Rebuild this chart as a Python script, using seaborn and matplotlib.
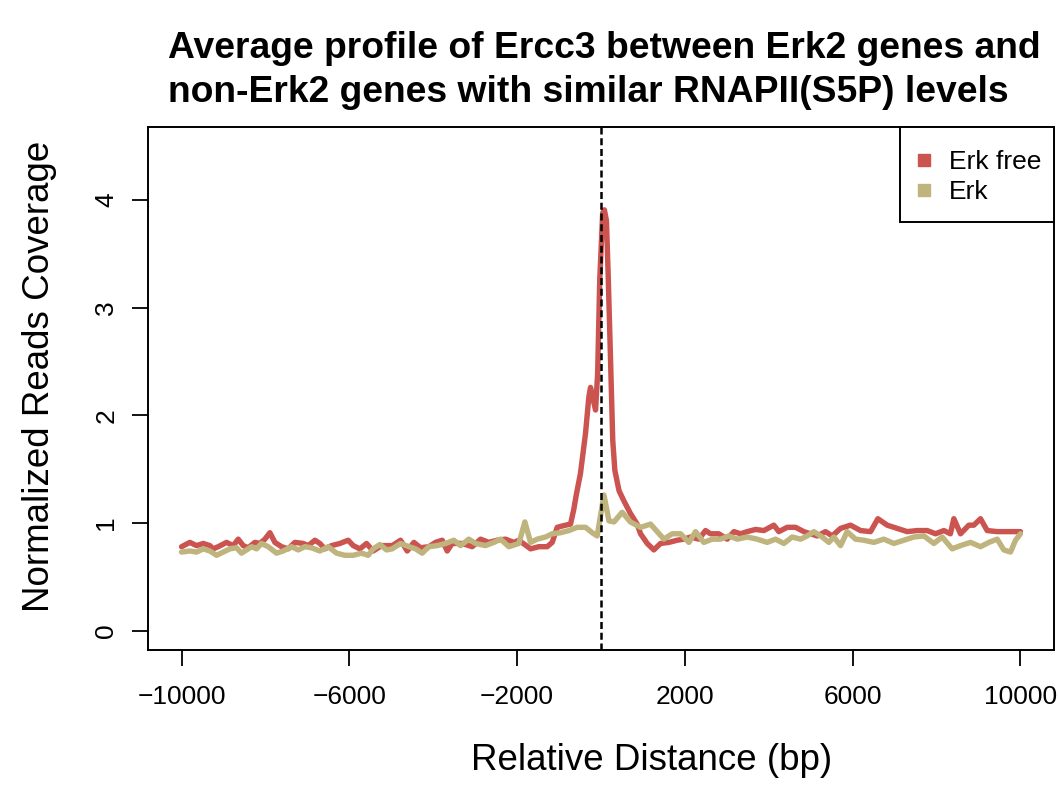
import numpy as np
import pandas as pd
import matplotlib
matplotlib.use("Agg")
import matplotlib.pyplot as plt
import seaborn as sns
from matplotlib.lines import Line2D
from matplotlib.patches import Rectangle

# ---------------- data ----------------
title_lines = ["Average profile of Ercc3 between Erk2 genes and",
               "non-Erk2 genes with similar RNAPII(S5P) levels"]
series_names = ["Erk free", "Erk"]
series_colors = ["#CC5450", "#BFB47E"]

erkfree_x = [-10000, -9801, -9642, -9483, -9325, -9245, -9126, -8927, -8768, -8649,
             -8530, -8411, -8252, -8133, -8013, -7894, -7775, -7616, -7457, -7298,
             -7099, -6980, -6821, -6702, -6583, -6424, -6225, -6027, -5907, -5748,
             -5590, -5431, -5232, -4978, -4779, -4620, -4461, -4302, -4104, -3945,
             -3786, -3667, -3547, -3309, -3070, -2872, -2673, -2475, -2276, -2077,
             -1958, -1680, -1481, -1283, -1163, -1044, -845, -726, -647, -590,
             -490, -370, -290, -250, -130, -80, -30, 40, 80, 130,
             170, 230, 280, 330, 430, 540, 700, 860, 943, 1102,
             1260, 1419, 1618, 1817, 1976, 2135, 2333, 2492, 2611, 2810,
             3009, 3168, 3327, 3486, 3684, 3883, 4121, 4240, 4439, 4638,
             4836, 4995, 5154, 5353, 5512, 5711, 5949, 6187, 6426, 6601,
             6823, 7062, 7300, 7538, 7777, 7975, 8174, 8330, 8412, 8571,
             8770, 8889, 9048, 9207, 9446, 9684, 10000]
erkfree_y = [0.78, 0.82, 0.79, 0.81, 0.79, 0.76, 0.78, 0.82, 0.79, 0.85,
             0.79, 0.77, 0.82, 0.81, 0.85, 0.91, 0.82, 0.78, 0.76, 0.82,
             0.81, 0.79, 0.84, 0.81, 0.76, 0.79, 0.81, 0.84, 0.79, 0.76,
             0.81, 0.74, 0.79, 0.79, 0.84, 0.74, 0.82, 0.77, 0.78, 0.82,
             0.84, 0.74, 0.81, 0.81, 0.78, 0.85, 0.82, 0.84, 0.85, 0.82,
             0.84, 0.76, 0.78, 0.78, 0.82, 0.96, 0.98, 0.99, 1.13, 1.26,
             1.46, 1.83, 2.17, 2.26, 2.05, 2.39, 3.26, 3.88, 3.91, 3.81,
             3.32, 2.48, 1.77, 1.49, 1.30, 1.21, 1.09, 0.99, 0.90, 0.81,
             0.75, 0.81, 0.82, 0.84, 0.85, 0.87, 0.85, 0.93, 0.90, 0.90,
             0.85, 0.92, 0.90, 0.92, 0.94, 0.93, 0.98, 0.92, 0.96, 0.96,
             0.92, 0.90, 0.88, 0.92, 0.88, 0.95, 0.98, 0.93, 0.92, 1.04,
             0.98, 0.95, 0.92, 0.93, 0.93, 0.90, 0.93, 0.90, 1.04, 0.90,
             0.98, 0.98, 1.04, 0.93, 0.92, 0.92, 0.92]

erk_x = [-10000, -9801, -9642, -9483, -9325, -9166, -9007, -8848, -8689, -8570,
         -8450, -8331, -8212, -8093, -7934, -7735, -7576, -7378, -7219, -7060,
         -6901, -6702, -6503, -6305, -6106, -5907, -5709, -5550, -5431, -5271,
         -5113, -4978, -4779, -4580, -4421, -4263, -4104, -3905, -3706, -3508,
         -3349, -3150, -2991, -2753, -2554, -2395, -2196, -1958, -1815, -1680,
         -1521, -1322, -1163, -965, -766, -567, -369, -210, -91, 70,
         190, 310, 505, 700, 943, 1181, 1340, 1499, 1697, 1896,
         2095, 2254, 2452, 2651, 2850, 3048, 3247, 3486, 3724, 3962,
         4161, 4360, 4558, 4757, 4916, 5075, 5274, 5432, 5551, 5711,
         5869, 6068, 6267, 6505, 6744, 6982, 7220, 7459, 7697, 7936,
         8134, 8373, 8571, 8810, 9048, 9247, 9446, 9604, 9763, 9883,
         10000]
erk_y = [0.73, 0.74, 0.73, 0.76, 0.74, 0.70, 0.73, 0.76, 0.77, 0.72,
         0.75, 0.78, 0.76, 0.81, 0.78, 0.72, 0.74, 0.78, 0.75, 0.78,
         0.77, 0.74, 0.78, 0.72, 0.70, 0.70, 0.72, 0.70, 0.76, 0.80,
         0.75, 0.76, 0.81, 0.78, 0.76, 0.72, 0.78, 0.79, 0.81, 0.84,
         0.79, 0.85, 0.81, 0.79, 0.82, 0.85, 0.78, 0.81, 1.01, 0.82,
         0.85, 0.87, 0.90, 0.91, 0.93, 0.96, 0.96, 0.91, 0.88, 1.26,
         1.02, 1.01, 1.10, 1.01, 0.96, 0.99, 0.92, 0.85, 0.90, 0.90,
         0.82, 0.92, 0.82, 0.85, 0.85, 0.88, 0.85, 0.87, 0.85, 0.82,
         0.85, 0.81, 0.87, 0.85, 0.88, 0.92, 0.87, 0.82, 0.87, 0.79,
         0.92, 0.85, 0.84, 0.82, 0.85, 0.81, 0.84, 0.87, 0.88, 0.81,
         0.87, 0.76, 0.79, 0.82, 0.78, 0.82, 0.85, 0.75, 0.73, 0.84,
         0.90]

x_ticks = [-10000, -6000, -2000, 2000, 6000, 10000]
y_ticks = [0, 1, 2, 3, 4]
x_label = "Relative Distance (bp)"
y_label = "Normalized Reads Coverage"

# ---------------- figure ----------------
sns.set_style("white")
plt.rcParams['font.family'] = ['Liberation Sans', 'DejaVu Sans']
plt.rcParams['axes.unicode_minus'] = True
plt.rcParams['text.color'] = 'black'
plt.rcParams['axes.labelcolor'] = 'black'
plt.rcParams['xtick.color'] = 'black'
plt.rcParams['ytick.color'] = 'black'

W, H = 1060, 789
fig = plt.figure(figsize=(W / 100, H / 100), dpi=100)
ax = fig.add_axes([148 / W, 1 - 650 / H, (1054 - 148) / W, (650 - 127) / H])

df = pd.concat([
    pd.DataFrame({"distance": erkfree_x, "coverage": erkfree_y, "group": series_names[0]}),
    pd.DataFrame({"distance": erk_x, "coverage": erk_y, "group": series_names[1]}),
], ignore_index=True)

sns.lineplot(data=df, x="distance", y="coverage", hue="group",
             hue_order=series_names, palette=dict(zip(series_names, series_colors)),
             estimator=None, sort=True, linewidth=3.9, legend=False, ax=ax,
             solid_capstyle="round", solid_joinstyle="round")

ax.axvline(0, color="black", linewidth=1.8, linestyle=(0, (2.8, 1.5)), zorder=5)

ax.set_xlim(-10800, 10800)
ax.set_ylim(-0.18, 4.68)
ax.set_xticks(x_ticks)
ax.set_yticks(y_ticks)
ax.set_xticklabels([f"{t:d}".replace("-", "\u2212") for t in x_ticks])
ax.set_yticklabels([str(t) for t in y_ticks])
ax.set_xlabel("")
ax.set_ylabel("")

for s in ax.spines.values():
    s.set_color("black")
    s.set_linewidth(1.4)

ax.tick_params(axis="x", direction="out", length=11.5, width=1.3, color="black",
               labelsize=19, pad=14, labelcolor="black", bottom=True)
ax.tick_params(axis="y", direction="out", length=11.5, width=1.3, color="black",
               labelsize=19, pad=10, labelcolor="black", left=True, labelrotation=90)
for lab in ax.get_yticklabels():
    lab.set_va("center")

# legend: frame drawn as a rectangle, entries as a frameless legend
x0 = (900 - 148) / 906
y0 = (650 - 222) / 523
ax.add_patch(Rectangle((x0, y0), 1 - x0, 1 - y0, transform=ax.transAxes,
                       facecolor="white", edgecolor="black", linewidth=1.4,
                       zorder=6, clip_on=False))
handles = [Line2D([0], [0], marker="s", linestyle="none", markersize=8.5,
                  markerfacecolor=c, markeredgecolor=c) for c in series_colors]
leg = ax.legend(handles, series_names, loc="upper left",
                bbox_to_anchor=((911 - 148) / 906, (650 - 150) / 523),
                borderaxespad=0, borderpad=0, fontsize=19, frameon=False,
                labelspacing=0.23, handlelength=1.0, handletextpad=0.44)
leg.set_zorder(7)

# titles and axis labels
fig.text(168 / W, 1 - 58 / H, title_lines[0], ha="left", va="baseline",
         fontsize=26.8, fontweight="bold")
fig.text(168 / W, 1 - 102 / H, title_lines[1], ha="left", va="baseline",
         fontsize=26.8, fontweight="bold")
fig.text(652 / W, 1 - 760 / H, x_label, ha="center", va="center", fontsize=26.5)
fig.text(40 / W, 1 - 376 / H, y_label, ha="center", va="center", fontsize=26.5,
         rotation=90)

fig.savefig("out.png", dpi=100, facecolor="white")
